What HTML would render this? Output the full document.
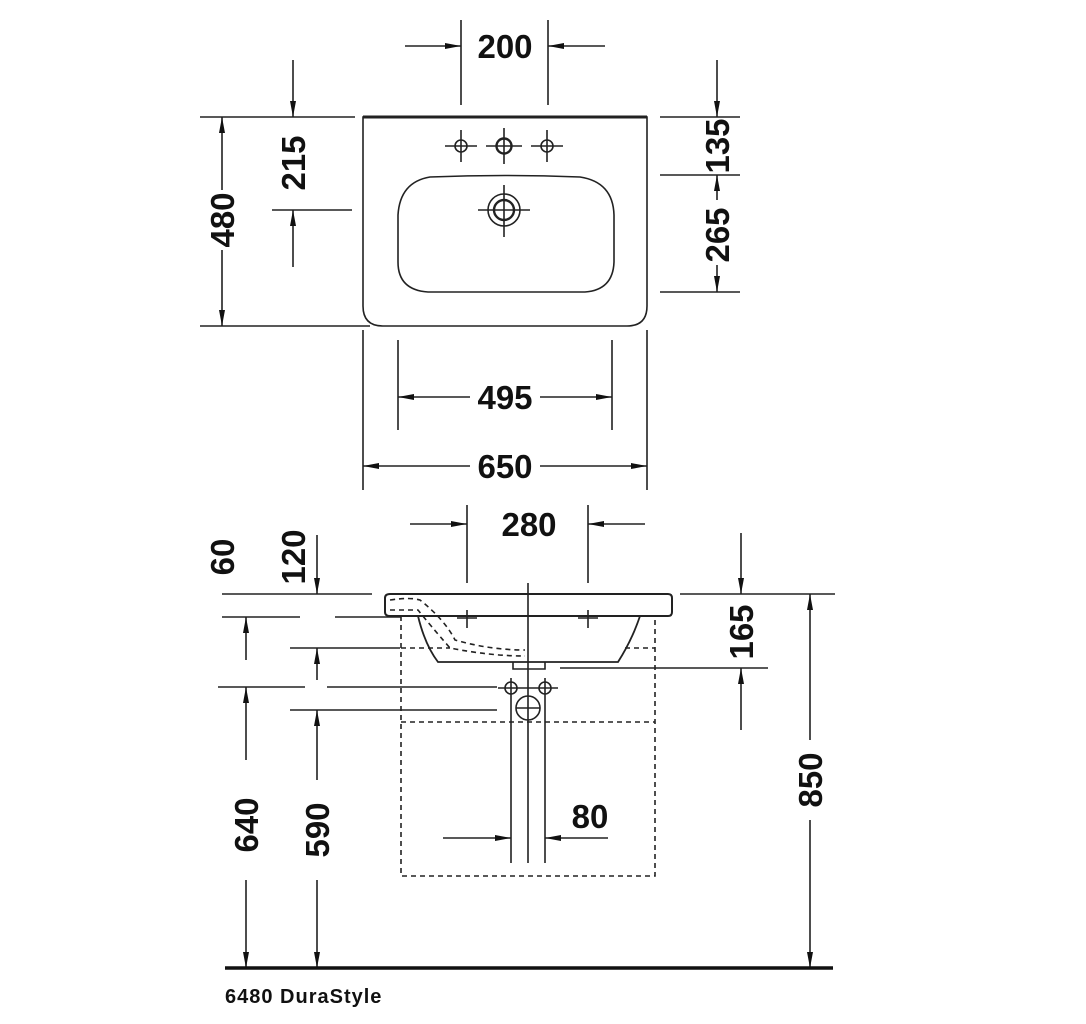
<!DOCTYPE html>
<html><head><style>html,body{margin:0;padding:0;background:#fff}svg{display:block}
text{font-family:"Liberation Sans Narrow","Liberation Sans",sans-serif;font-weight:bold;font-size:33px;fill:#111}</style></head>
<body>
<svg width="1086" height="1024" viewBox="0 0 1086 1024" xmlns="http://www.w3.org/2000/svg">
<defs>
<marker id="a" viewBox="0 0 16 6" refX="16" refY="3" markerWidth="16" markerHeight="6" markerUnits="userSpaceOnUse" orient="auto"><path d="M0,0L16,3L0,6z" fill="#111"/></marker>
</defs>
<g stroke="#222" stroke-width="1.6" fill="none">
<path d="M363,117H647V306Q647,326 627,326H383Q363,326 363,306Z"/>
<line x1="363" y1="117" x2="647" y2="117" stroke-width="3"/>
<circle cx="461" cy="146" r="6"/><circle cx="504" cy="146" r="7.5" stroke-width="2.4"/><circle cx="547" cy="146" r="6"/>
<path d="M445,146h32M461,130v32M486,146h36M504,128v36M531,146h32M547,130v32"/>
<path d="M430,177Q505,174 580,177Q613,182 614,215V262Q613,290 585,292H428Q398,290 398,262V215Q400,182 430,177Z"/>
<circle cx="504" cy="210" r="16"/><circle cx="504" cy="210" r="10" stroke-width="2.4"/>
<path d="M478,210h52M504,185v52"/>
<path d="M461,20v85M548,20v85"/>
<line x1="405" y1="46" x2="461" y2="46" marker-end="url(#a)"/>
<line x1="605" y1="46" x2="548" y2="46" marker-end="url(#a)"/>
<path d="M272,117h80M272,210h80M200,117h155M200,326h170"/>
<line x1="293" y1="60" x2="293" y2="117" marker-end="url(#a)"/>
<line x1="293" y1="267" x2="293" y2="210" marker-end="url(#a)"/>
<line x1="222" y1="190" x2="222" y2="117" marker-end="url(#a)"/>
<line x1="222" y1="250" x2="222" y2="326" marker-end="url(#a)"/>
<path d="M660,117h80M660,175h80M660,292h80"/>
<line x1="717" y1="60" x2="717" y2="117" marker-end="url(#a)"/>
<line x1="717" y1="200" x2="717" y2="175" marker-end="url(#a)"/>
<line x1="717" y1="265" x2="717" y2="292" marker-end="url(#a)"/>
<path d="M398,340v90M612,340v90M363,330v160M647,330v160"/>
<line x1="470" y1="397" x2="398" y2="397" marker-end="url(#a)"/>
<line x1="540" y1="397" x2="612" y2="397" marker-end="url(#a)"/>
<line x1="470" y1="466" x2="363" y2="466" marker-end="url(#a)"/>
<line x1="540" y1="466" x2="647" y2="466" marker-end="url(#a)"/>
<path d="M390,594H668Q672,594 672,598V612Q672,616 668,616H390Q385,616 385,612V598Q385,594 390,594Z" stroke-width="2"/>
<path d="M418,616Q425,645 438,662H618Q632,640 640,616" stroke-width="1.8"/>
<path d="M513,662v7h32v-7"/>
<path d="M528,583v280"/>
<g stroke-dasharray="5,4">
<path d="M401,616V876H655V616M401,722H655M401,648H450M625,648H655"/>
<path d="M390,600Q410,597 420,600Q445,620 455,640Q490,650 525,650M390,610H418Q430,625 450,648Q490,656 525,656"/>
</g>
<path d="M467,505v78M588,505v78M467,610v18M588,610v18M457,618h20M578,618h20"/>
<line x1="410" y1="524" x2="467" y2="524" marker-end="url(#a)"/>
<line x1="645" y1="524" x2="588" y2="524" marker-end="url(#a)"/>
<circle cx="511" cy="688" r="6"/><circle cx="545" cy="688" r="6"/><circle cx="528" cy="708" r="12"/>
<path d="M498,688h60M516,708h24M511,678v185M545,678v185"/>
<line x1="443" y1="838" x2="511" y2="838" marker-end="url(#a)"/>
<line x1="608" y1="838" x2="545" y2="838" marker-end="url(#a)"/>
<path d="M222,594h150M222,617h78M335,617h66M290,648h110M218,687h87M327,687h170M290,710h207"/>
<line x1="317" y1="535" x2="317" y2="594" marker-end="url(#a)"/>
<line x1="246" y1="660" x2="246" y2="617" marker-end="url(#a)"/>
<line x1="246" y1="760" x2="246" y2="687" marker-end="url(#a)"/>
<line x1="246" y1="880" x2="246" y2="968" marker-end="url(#a)"/>
<line x1="317" y1="680" x2="317" y2="648" marker-end="url(#a)"/>
<line x1="317" y1="780" x2="317" y2="710" marker-end="url(#a)"/>
<line x1="317" y1="880" x2="317" y2="968" marker-end="url(#a)"/>
<path d="M680,594h155M560,668h208"/>
<line x1="741" y1="533" x2="741" y2="594" marker-end="url(#a)"/>
<line x1="741" y1="730" x2="741" y2="668" marker-end="url(#a)"/>
<line x1="810" y1="740" x2="810" y2="594" marker-end="url(#a)"/>
<line x1="810" y1="820" x2="810" y2="968" marker-end="url(#a)"/>
<line x1="225" y1="968" x2="833" y2="968" stroke-width="3.5" stroke="#111"/>
</g>
<g text-anchor="middle">
<text x="505" y="58">200</text>
<text x="505" y="409">495</text>
<text x="505" y="478">650</text>
<text x="529" y="536">280</text>
<text x="590" y="828">80</text>
<text transform="translate(305,163) rotate(-90)">215</text>
<text transform="translate(234,220) rotate(-90)">480</text>
<text transform="translate(729,146) rotate(-90)">135</text>
<text transform="translate(729,235) rotate(-90)">265</text>
<text transform="translate(234,557) rotate(-90)">60</text>
<text transform="translate(305,557) rotate(-90)">120</text>
<text transform="translate(753,632) rotate(-90)">165</text>
<text transform="translate(258,825) rotate(-90)">640</text>
<text transform="translate(329,830) rotate(-90)">590</text>
<text transform="translate(822,780) rotate(-90)">850</text>
</g>
<text x="225" y="1003" style="font-family:'Liberation Sans',sans-serif;font-size:20px;font-weight:bold;letter-spacing:1px">6480 DuraStyle</text>
</svg>
</body></html>
